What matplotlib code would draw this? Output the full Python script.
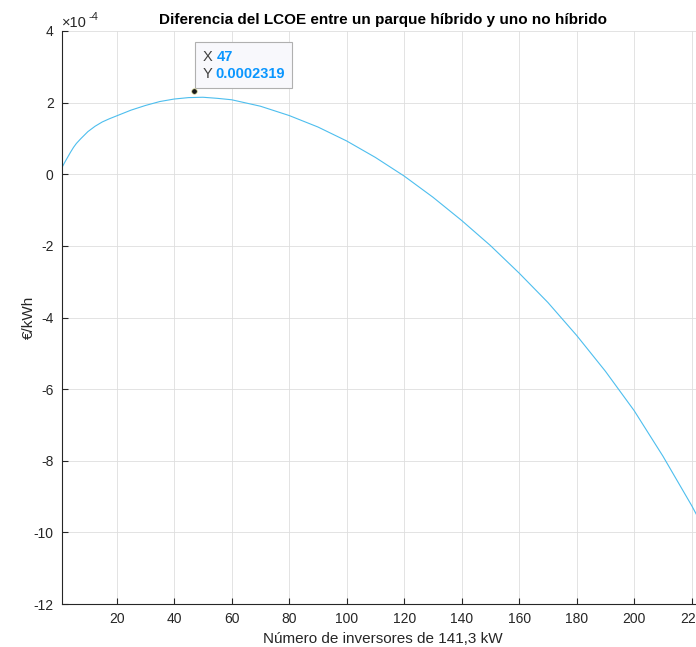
import numpy as np
import matplotlib.pyplot as plt
from matplotlib.offsetbox import TextArea, HPacker, VPacker, AnnotationBbox

plt.rcParams['font.family'] = ['Liberation Sans', 'DejaVu Sans']
plt.rcParams['axes.unicode_minus'] = False

# numero de inversores y diferencia del LCOE (en unidades de 1e-4 €/kWh)
inversores = [1, 2, 3, 4, 5, 6, 7.5, 9, 10, 12.5, 15, 17.5, 20, 25, 30, 35, 40,
              45, 50, 55, 60, 70, 80, 90, 100, 110, 120, 130, 140, 150, 160,
              170, 180, 190, 200, 210, 220, 224]
dif_lcoe = [0.19, 0.34, 0.48, 0.62, 0.75, 0.86, 0.99, 1.11, 1.19, 1.34, 1.46,
            1.55, 1.63, 1.79, 1.92, 2.03, 2.10, 2.14, 2.15, 2.12, 2.08, 1.90,
            1.64, 1.32, 0.93, 0.47, -0.05, -0.64, -1.29, -1.99, -2.76, -3.58,
            -4.50, -5.50, -6.60, -7.87, -9.25, -9.85]

tip_x = 47
tip_y = 2.319  # 0.0002319

x = np.array(inversores)
y = np.array(dif_lcoe)

fig = plt.figure(figsize=(6.96, 6.47), dpi=100)
ax = fig.add_axes([62 / 696, 43 / 647, 642 / 696, 573 / 647])

ax.plot(x, y, color='#4dbeee', lw=0.8)
ax.plot(tip_x, tip_y, 'o', color='#1a1a1a', ms=4, mec='#e0e0a0', mew=0.5, zorder=5)

ax.set_xlim(1, 224.3)
ax.set_ylim(-12, 4)
ax.set_xticks(np.arange(20, 221, 20))
ax.set_yticks(np.arange(-12, 5, 2))

ax.grid(True, color='#dedede', lw=0.6)
ax.set_axisbelow(True)
for s in ['top', 'right']:
    ax.spines[s].set_visible(False)
for s in ['left', 'bottom']:
    ax.spines[s].set_color('#262626')
    ax.spines[s].set_linewidth(0.8)
ax.tick_params(direction='in', length=4, width=0.8, colors='#262626',
               labelsize=10, pad=6)

ax.set_title('Diferencia del LCOE entre un parque híbrido y uno no híbrido',
             fontsize=11, fontweight='bold', color='black', pad=5)
ax.set_xlabel('Número de inversores de 141,3 kW', fontsize=11, color='#262626',
              labelpad=4)
ax.set_ylabel('€/kWh', fontsize=11, color='#262626', labelpad=-1.5)

# factor de escala estilo MATLAB
ax.text(0.0, 1.002, '×10', transform=ax.transAxes, fontsize=10.5,
        color='#262626', ha='left', va='bottom')
ax.text(0.041, 1.016, '-4', transform=ax.transAxes, fontsize=8,
        color='#262626', ha='left', va='bottom')

# datatip
azul = '#0a96ff'
gris = '#404040'
fila_x = HPacker(children=[TextArea('X', textprops=dict(color=gris, fontsize=10.5)),
                           TextArea(f'{tip_x}', textprops=dict(color=azul, fontsize=10.5,
                                                               fontweight='bold'))],
                 align='baseline', pad=0, sep=3)
fila_y = HPacker(children=[TextArea('Y', textprops=dict(color=gris, fontsize=10.5)),
                           TextArea(f'{tip_y * 1e-4:.7f}',
                                    textprops=dict(color=azul, fontsize=10.5,
                                                   fontweight='bold'))],
                 align='baseline', pad=0, sep=2)
caja = VPacker(children=[fila_x, fila_y], align='left', pad=0, sep=2)
ab = AnnotationBbox(caja, (tip_x, tip_y), xybox=(6.0, 7.6), xycoords='data',
                    boxcoords='offset points', box_alignment=(0, 0), pad=0.55,
                    bboxprops=dict(fc='#f8f8fc', ec='#b0b0b0', lw=0.8))
ax.add_artist(ab)

fig.savefig('out.png', dpi=100)
